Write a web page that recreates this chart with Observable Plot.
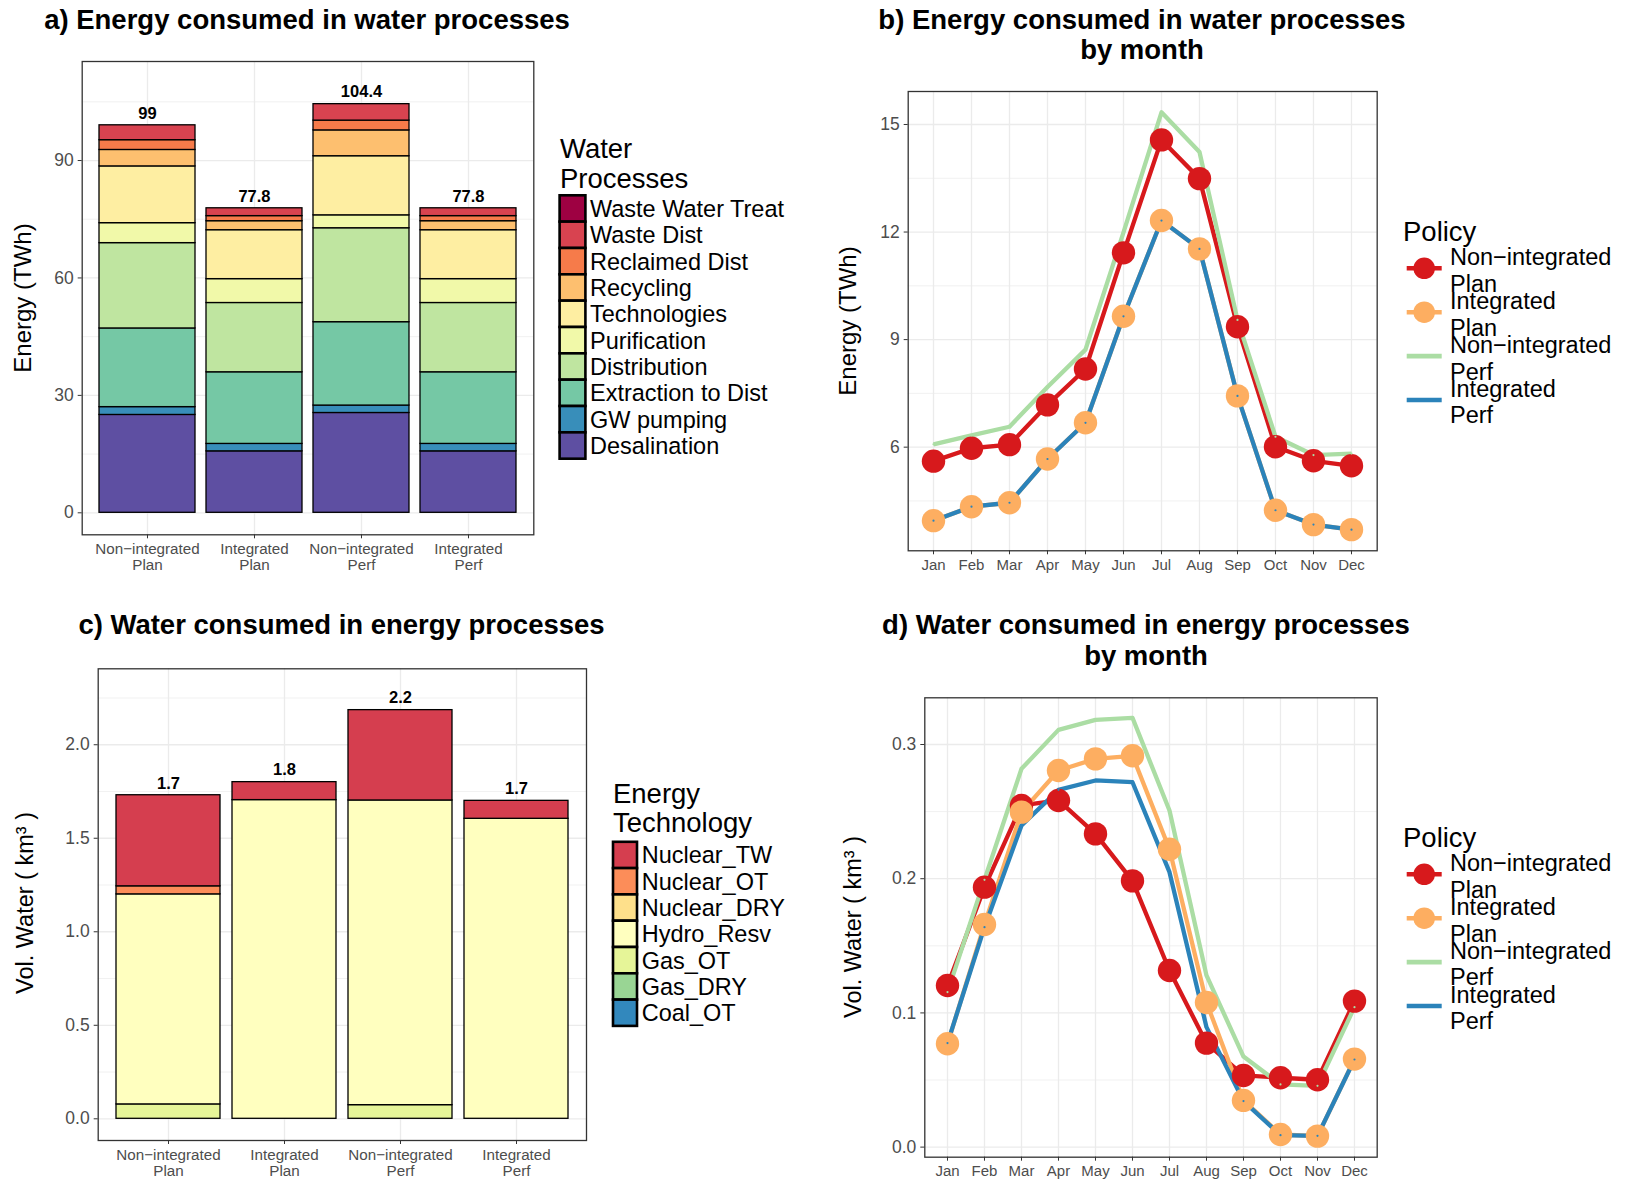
<!DOCTYPE html>
<html><head><meta charset="utf-8">
<script src="https://cdn.jsdelivr.net/npm/d3@7"></script>
<script src="https://cdn.jsdelivr.net/npm/@observablehq/plot@0.6"></script>
<style>
body{margin:0;background:#fff;}
#root{position:relative;width:1630px;height:1187px;font-family:"Liberation Sans",Arial,Helvetica,sans-serif;overflow:hidden;background:#fff;}
.t{position:absolute;white-space:nowrap;line-height:1;color:#000;}
.plot{position:absolute;}
</style></head><body><div id="root"></div>
<script>
// ---------- DATA ----------
const scenarios = ["Non-integrated Plan", "Integrated Plan", "Non-integrated Perf", "Integrated Perf"];

// Panel a: energy (TWh) per water process, one value per scenario
const processes = ["Waste Water Treat", "Waste Dist", "Reclaimed Dist", "Recycling", "Technologies", "Purification", "Distribution", "Extraction to Dist", "GW pumping", "Desalination"];
const processColors = ["#9E0142", "#D84350", "#F67B4A", "#FDBF6F", "#FEEEA2", "#F1F9A9", "#BFE5A0", "#75C8A5", "#388EBA", "#5E4FA2"];
const desalination    = [25.0, 15.7, 25.5, 15.7];
const gwPumping       = [2.0, 1.9, 1.9, 1.9];
const extractionDist  = [20.1, 18.3, 21.3, 18.3];
const distribution    = [21.8, 17.7, 24.0, 17.7];
const purification    = [5.1, 6.1, 3.3, 6.1];
const technologies    = [14.5, 12.5, 15.1, 12.5];
const recycling       = [4.2, 2.3, 6.6, 2.3];
const reclaimedDist   = [2.5, 1.3, 2.5, 1.3];
const wasteDist       = [3.8, 2.0, 4.2, 2.0];
const wasteWaterTreat = [0, 0, 0, 0];

// Panel c: water (km3) per energy technology
const techs = ["Nuclear_TW", "Nuclear_OT", "Nuclear_DRY", "Hydro_Resv", "Gas_OT", "Gas_DRY", "Coal_OT"];
const techColors = ["#D53E4F", "#FC8D59", "#FEE08B", "#FFFFBF", "#E6F598", "#99D594", "#3288BD"];
const coalOT     = [0, 0, 0, 0];
const gasDRY     = [0, 0, 0, 0];
const gasOT      = [0.077, 0, 0.073, 0];
const hydroResv  = [1.123, 1.704, 1.629, 1.604];
const nuclearDRY = [0, 0, 0, 0];
const nuclearOT  = [0.043, 0, 0, 0];
const nuclearTW  = [0.487, 0.096, 0.483, 0.096];

// Panels b and d: monthly series per policy
const months = ["Jan", "Feb", "Mar", "Apr", "May", "Jun", "Jul", "Aug", "Sep", "Oct", "Nov", "Dec"];
const policies = ["Non-integrated Plan", "Integrated Plan", "Non-integrated Perf", "Integrated Perf"];
const policyColors = ["#D7191C", "#FDAE61", "#ABDDA4", "#2B83BA"];
const energyNonIntPlan = [5.61, 5.97, 6.07, 7.18, 8.18, 11.42, 14.57, 13.49, 9.36, 6.01, 5.62, 5.48];
const energyIntPlan    = [3.95, 4.34, 4.45, 5.67, 6.68, 9.65, 12.32, 11.53, 7.43, 4.24, 3.84, 3.70];
const energyNonIntPerf = [6.08, 6.33, 6.57, 7.68, 8.72, 11.99, 15.34, 14.23, 9.55, 6.29, 5.78, 5.82];
const energyIntPerf    = [3.95, 4.34, 4.45, 5.67, 6.68, 9.65, 12.32, 11.53, 7.43, 4.24, 3.84, 3.70];
const waterNonIntPlan  = [0.1204, 0.1937, 0.2546, 0.2583, 0.2334, 0.1984, 0.1316, 0.0775, 0.0534, 0.0517, 0.0502, 0.1088];
const waterIntPlan     = [0.0770, 0.1659, 0.2496, 0.2806, 0.2893, 0.2916, 0.2220, 0.1078, 0.0348, 0.0094, 0.0082, 0.0656];
const waterNonIntPerf  = [0.1155, 0.1992, 0.2819, 0.3109, 0.3184, 0.3199, 0.2508, 0.1279, 0.0675, 0.0467, 0.0457, 0.1043];
const waterIntPerf     = [0.0775, 0.1639, 0.2397, 0.2662, 0.2732, 0.2719, 0.2049, 0.0894, 0.0343, 0.0089, 0.0084, 0.0653];

// ---------- HELPERS ----------
const root = document.getElementById("root");
const FONT = "Liberation Sans, Arial, Helvetica, sans-serif";
const NS = "http://www.w3.org/2000/svg";
const GRID = "#EBEBEB";

function htmlText(txt, x, capY, size, {weight = "normal", anchor = "middle", rotate = false} = {}) {
  const d = document.createElement("div");
  d.className = "t";
  d.textContent = txt;
  d.style.fontSize = size + "px";
  d.style.fontWeight = weight;
  if (rotate) {
    d.style.left = x + "px";
    d.style.top = capY + "px";
    d.style.transform = "translate(-50%,-50%) rotate(-90deg)";
  } else {
    d.style.top = (capY - size * 0.49) + "px";
    d.style.left = x + "px";
    if (anchor === "middle") d.style.transform = "translateX(-50%)";
  }
  root.appendChild(d);
}
function svgBox(x, y, w, h) {
  const s = document.createElementNS(NS, "svg");
  s.setAttribute("width", w); s.setAttribute("height", h);
  s.setAttribute("viewBox", `${x} ${y} ${w} ${h}`);
  s.style.position = "absolute"; s.style.left = x + "px"; s.style.top = y + "px"; s.style.overflow = "visible";
  s.setAttribute("font-family", FONT);
  root.appendChild(s);
  return s;
}
function add(parent, tag, attrs, text) {
  const e = document.createElementNS(NS, tag);
  for (const k in attrs) e.setAttribute(k, attrs[k]);
  if (text != null) e.textContent = text;
  parent.appendChild(e);
  return e;
}
function place(svg, left, top) {
  svg.classList.add("plot");
  svg.style.position = "absolute";
  svg.style.left = left + "px";
  svg.style.top = top + "px";
  svg.style.maxWidth = "none";
  root.appendChild(svg);
}
const nice = s => s.replace("Non-", "Non\u2212");
const twoLine = s => nice(s).replace(" ", "\n");
const PLOTSTYLE = {fontFamily: FONT, background: "transparent", overflow: "visible"};

// ---------- STACKED BAR PANELS (a, c) ----------
function stackedPlot(stack, {keyName, domainY, ticks, minor, fmt, colorDomain, colorRange, width, height, marginLeft, marginTop}) {
  const rows = [];
  scenarios.forEach((s, i) => stack.forEach(([p, arr]) => { if (arr[i] > 0) rows.push({scenario: s, [keyName]: p, value: arr[i]}); }));
  const totals = scenarios.map((s, i) => ({scenario: s, total: d3.sum(stack, ([, arr]) => arr[i])}));
  return Plot.plot({
    width, height, marginLeft, marginTop, marginRight: 4, marginBottom: 45,
    style: PLOTSTYLE,
    x: {type: "band", domain: scenarios, paddingInner: 0.1, paddingOuter: 0.15},
    y: {domain: domainY},
    color: {domain: colorDomain, range: colorRange},
    marks: [
      Plot.gridY({ticks: minor, stroke: GRID, strokeOpacity: 1, strokeWidth: 0.7}),
      Plot.gridY({ticks, stroke: GRID, strokeOpacity: 1, strokeWidth: 1.3}),
      Plot.gridX({stroke: GRID, strokeOpacity: 1, strokeWidth: 1.3}),
      Plot.barY(rows, {x: "scenario", y: "value", fill: keyName, stroke: "black", strokeWidth: 1.3}),
      Plot.text(totals, {x: "scenario", y: "total", text: d => String(+d.total.toFixed(1)), dy: -12, fontWeight: "bold", fontSize: 16.5, fill: "black"}),
      Plot.frame({stroke: "#333", strokeWidth: 1.3}),
      Plot.axisY({ticks, tickFormat: fmt, tickSize: 4, tickPadding: 4.5, fontSize: 17.5, stroke: "#333", fill: "#4D4D4D", label: null}),
      Plot.axisX({tickSize: 4, tickPadding: 4, fontSize: 15.2, stroke: "#333", fill: "#4D4D4D", label: null, tickFormat: twoLine, lineHeight: 1.04})
    ]
  });
}
const plotA = stackedPlot([
  ["Desalination", desalination], ["GW pumping", gwPumping], ["Extraction to Dist", extractionDist],
  ["Distribution", distribution], ["Purification", purification], ["Technologies", technologies],
  ["Recycling", recycling], ["Reclaimed Dist", reclaimedDist], ["Waste Dist", wasteDist], ["Waste Water Treat", wasteWaterTreat]
], {keyName: "process", domainY: [-5.62, 115.3], ticks: [0, 30, 60, 90], minor: [15, 45, 75, 105], fmt: d3.format("d"),
    colorDomain: processes, colorRange: processColors, width: 537.3, height: 524.3, marginLeft: 81.7, marginTop: 6});
place(plotA, 0, 55);

const plotC = stackedPlot([
  ["Coal_OT", coalOT], ["Gas_DRY", gasDRY], ["Gas_OT", gasOT], ["Hydro_Resv", hydroResv],
  ["Nuclear_DRY", nuclearDRY], ["Nuclear_OT", nuclearOT], ["Nuclear_TW", nuclearTW]
], {keyName: "tech", domainY: [-0.116, 2.406], ticks: [0, 0.5, 1, 1.5, 2], minor: [0.25, 0.75, 1.25, 1.75, 2.25], fmt: d3.format(".1f"),
    colorDomain: techs, colorRange: techColors, width: 590, height: 525, marginLeft: 97.7, marginTop: 8.3});
place(plotC, 0, 660);

// ---------- MONTHLY PANELS (b, d) ----------
function monthlyRows(series) {
  const rows = [];
  policies.forEach((p, k) => months.forEach((m, i) => rows.push({policy: p, month: m, value: series[k][i]})));
  return rows;
}
function monthlyPlot(rows, {width, height, marginLeft, marginTop, domain, ticks, minor, fmt}) {
  const plan = rows.filter(d => d.policy.endsWith("Plan"));
  const perf = rows.filter(d => d.policy.endsWith("Perf"));
  return Plot.plot({
    width, height, marginLeft, marginTop, marginRight: 5, marginBottom: 30,
    style: PLOTSTYLE,
    x: {type: "point", domain: months, padding: 0.6},
    y: {domain},
    color: {domain: policies, range: policyColors},
    marks: [
      Plot.gridY({ticks: minor, stroke: GRID, strokeOpacity: 1, strokeWidth: 0.7}),
      Plot.gridY({ticks, stroke: GRID, strokeOpacity: 1, strokeWidth: 1.3}),
      Plot.gridX({stroke: GRID, strokeOpacity: 1, strokeWidth: 1.3}),
      Plot.line(rows, {x: "month", y: "value", stroke: "policy", z: "policy", strokeWidth: 4.3, strokeLinecap: "butt", strokeLinejoin: "round"}),
      Plot.dot(plan, {x: "month", y: "value", fill: "policy", r: 11.7}),
      Plot.dot(perf, {x: "month", y: "value", fill: "policy", r: 1.1}),
      Plot.frame({stroke: "#333", strokeWidth: 1.3}),
      Plot.axisY({ticks, tickFormat: fmt, tickSize: 4, tickPadding: 4.5, fontSize: 17.5, stroke: "#333", fill: "#4D4D4D", label: null}),
      Plot.axisX({tickSize: 4, tickPadding: 4.3, fontSize: 15, stroke: "#333", fill: "#4D4D4D", label: null})
    ]
  });
}
const plotB = monthlyPlot(monthlyRows([energyNonIntPlan, energyIntPlan, energyNonIntPerf, energyIntPerf]), {
  width: 551.7, height: 495.3, marginLeft: 77.7, marginTop: 6,
  domain: [3.11, 15.92], ticks: [6, 9, 12, 15], minor: [4.5, 7.5, 10.5, 13.5], fmt: d3.format("d")
});
place(plotB, 830, 85);
const plotD = monthlyPlot(monthlyRows([waterNonIntPlan, waterIntPlan, waterNonIntPerf, waterIntPerf]), {
  width: 541.7, height: 496.7, marginLeft: 84.3, marginTop: 7.3,
  domain: [-0.0075, 0.3348], ticks: [0, 0.1, 0.2, 0.3], minor: [0.05, 0.15, 0.25], fmt: d3.format(".1f")
});
place(plotD, 840, 690);

// ---------- TITLES ----------
htmlText("a) Energy consumed in water processes", 307, 19.5, 27.5, {weight: "bold"});
htmlText("b) Energy consumed in water processes", 1142, 19.5, 27.5, {weight: "bold"});
htmlText("by month", 1142, 49, 27.5, {weight: "bold"});
htmlText("c) Water consumed in energy processes", 341.5, 624.5, 27.5, {weight: "bold"});
htmlText("d) Water consumed in energy processes", 1146, 624.5, 27.5, {weight: "bold"});
htmlText("by month", 1146, 655.5, 27.5, {weight: "bold"});

// axis titles
htmlText("Energy (TWh)", 23, 297.7, 24, {rotate: true});
htmlText("Energy (TWh)", 848, 320.7, 24, {rotate: true});
htmlText("Vol. Water ( km\u00B3 )", 25.5, 903, 23.5, {rotate: true});
htmlText("Vol. Water ( km\u00B3 )", 853.5, 927, 23.5, {rotate: true});

// ---------- LEGENDS ----------
function boxLegend({x, titles, titleBaselines, keyX, keyW, keyTop, keyH, labels, colors, labelX}) {
  const s = svgBox(x - 5, titleBaselines[0] - 32, 260, keyTop + keyH * labels.length - titleBaselines[0] + 40);
  titles.forEach((t, i) => add(s, "text", {x, y: titleBaselines[i], "font-size": 27.5, fill: "#000"}, t));
  labels.forEach((lab, i) => {
    const y = keyTop + i * keyH;
    add(s, "rect", {x: keyX, y, width: keyW, height: keyH, fill: colors[i], stroke: "#000", "stroke-width": 2.6});
    add(s, "text", {x: labelX, y: y + keyH / 2 + 8.4, "font-size": 23.5, fill: "#000"}, lab);
  });
}
boxLegend({x: 560, titles: ["Water", "Processes"], titleBaselines: [158, 188],
  keyX: 559.6, keyW: 25.8, keyTop: 195.3, keyH: 26.34, labels: processes, colors: processColors, labelX: 590});
boxLegend({x: 613, titles: ["Energy", "Technology"], titleBaselines: [802.5, 832],
  keyX: 613, keyW: 24, keyTop: 841.3, keyH: 26.3, labels: techs, colors: techColors, labelX: 641.7});

function policyLegend(dy) {
  const s = svgBox(1395, 200 + dy, 235, 240);
  add(s, "text", {x: 1403, y: 241 + dy, "font-size": 27.5, fill: "#000"}, "Policy");
  policies.forEach((p, i) => {
    const cy = 268.3 + i * 43.9 + dy;
    add(s, "line", {x1: 1406.7, x2: 1441.7, y1: cy, y2: cy, stroke: policyColors[i], "stroke-width": 4.6});
    if (p.endsWith("Plan")) add(s, "circle", {cx: 1424.2, cy, r: 10.8, fill: policyColors[i]});
    const [l1, l2] = twoLine(p).split("\n");
    add(s, "text", {x: 1450, y: cy - 3.2, "font-size": 23.5, fill: "#000"}, l1);
    add(s, "text", {x: 1450, y: cy + 23.4, "font-size": 23.5, fill: "#000"}, l2);
  });
}
policyLegend(0);
policyLegend(605.7);
</script></body></html>
